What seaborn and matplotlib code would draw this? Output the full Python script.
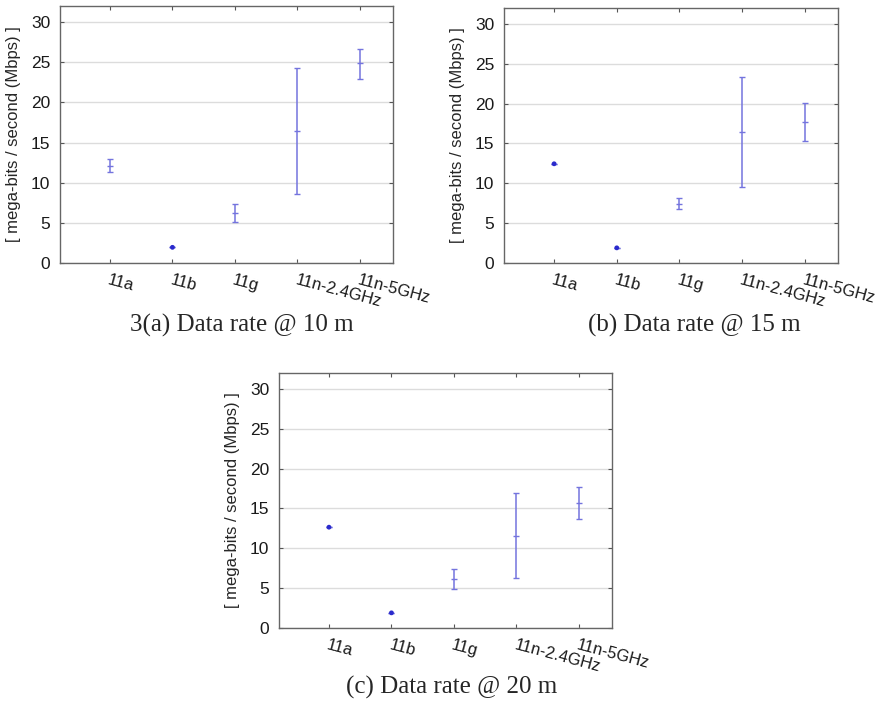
import numpy as np
import pandas as pd
import matplotlib
matplotlib.use("Agg")
import matplotlib.pyplot as plt
import seaborn as sns

# standards on the x axis
estandares = ['11a', '11b', '11g', '11n-2.4GHz', '11n-5GHz']

# data rate (Mbps): mean, lower and upper end of the bars
media_10m = [12.1, 1.95, 6.2, 16.4, 24.85]
bajo_10m = [11.35, 1.95, 5.05, 8.6, 22.9]
alto_10m = [12.9, 1.95, 7.35, 24.3, 26.7]

media_15m = [12.45, 1.9, 7.4, 16.5, 17.75]
bajo_15m = [12.45, 1.9, 6.75, 9.55, 15.35]
alto_15m = [12.45, 1.9, 8.1, 23.4, 20.1]

media_20m = [12.65, 1.9, 6.2, 11.6, 15.7]
bajo_20m = [12.65, 1.9, 4.95, 6.25, 13.7]
alto_20m = [12.65, 1.9, 7.45, 17.0, 17.75]

titulos = ['3(a) Data rate @ 10 m', '(b) Data rate @ 15 m', '(c) Data rate @ 20 m']
y_ticks = [0, 5, 10, 15, 20, 25, 30]

sns.set_style("white")
plt.rcParams['font.family'] = ['Liberation Sans', 'DejaVu Sans']

color_barra = '#7474de'
color_punto = '#2a2acc'


def plot_panel(ax, media, bajo, alto):
    '''Draws one data rate panel'''
    df = pd.DataFrame({'std': estandares, 'media': media, 'bajo': bajo, 'alto': alto})
    pos = np.arange(len(df))
    ax.errorbar(pos, df['media'], yerr=[df['media'] - df['bajo'], df['alto'] - df['media']],
                fmt='none', ecolor=color_barra, elinewidth=1.1, capsize=2, capthick=1.0)
    planos = df['alto'] == df['bajo']
    sns.scatterplot(ax=ax, x=pos[planos.values], y=df['media'][planos], color=color_punto,
                    s=12, marker='o', edgecolor='none', zorder=4)
    sns.scatterplot(ax=ax, x=pos[~planos.values], y=df['media'][~planos], color=color_barra,
                    s=18, marker='_', linewidth=1.0, zorder=4)
    ax.set_xlim(-0.8, 4.53)
    ax.set_ylim(0, 32.0)
    ax.set_xticks(pos)
    ax.set_xticklabels(estandares, rotation=-15, ha='left', va='top', rotation_mode='anchor', fontsize=12)
    ax.set_yticks(y_ticks)
    ax.tick_params(axis='y', labelsize=12.5, pad=7)
    ax.tick_params(axis='x', pad=7)
    ax.tick_params(direction='in', length=3, color='#555555', top=True, right=True,
                   bottom=True, left=True, labelcolor='#1a1a1a')
    ax.grid(axis='y', color='#dcdcdc', linewidth=1.0)
    ax.set_axisbelow(True)
    for s in ax.spines.values():
        s.set_color('#666666')
        s.set_linewidth(1.0)
    ax.set_ylabel('[ mega-bits / second (Mbps) ]', fontsize=12, labelpad=7)
    ax.set_xlabel('')


fig = plt.figure(figsize=(8.82, 7.03), dpi=100)
ax1 = fig.add_axes([0.068, 0.6259, 0.3776, 0.3656])
ax2 = fig.add_axes([0.5714, 0.6259, 0.3787, 0.3627])
ax3 = fig.add_axes([0.3163, 0.1067, 0.3776, 0.3627])

plot_panel(ax1, media_10m, bajo_10m, alto_10m)
plot_panel(ax2, media_15m, bajo_15m, alto_15m)
plot_panel(ax3, media_20m, bajo_20m, alto_20m)

fig.text(242 / 882, 1 - 325 / 703, titulos[0], ha='center', va='center',
         family='Liberation Serif', fontsize=18)
fig.text(694 / 882, 1 - 325 / 703, titulos[1], ha='center', va='center',
         family='Liberation Serif', fontsize=18)
fig.text(452 / 882, 1 - 687 / 703, titulos[2], ha='center', va='center',
         family='Liberation Serif', fontsize=18)

plt.savefig('out.png', dpi=100)
